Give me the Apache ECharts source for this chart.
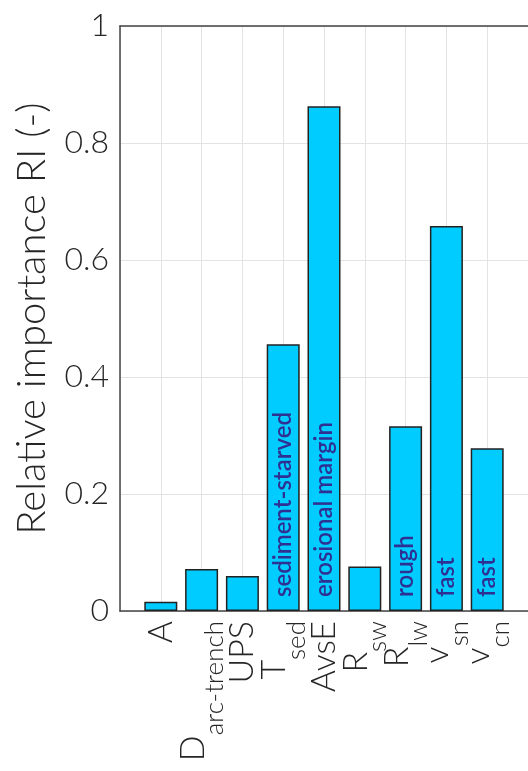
<!DOCTYPE html>
<html>
<head>
<meta charset="utf-8">
<script src="https://cdn.jsdelivr.net/npm/echarts@6/dist/echarts.min.js"></script>
<style>
html,body{margin:0;padding:0;background:#fff;}
#chart{width:528px;height:771px;}
</style>
</head>
<body>
<div id="chart"></div>
<script>
// Categories: main symbol and subscript
const catMain = ['A', 'D', 'UPS', 'T', 'AvsE', 'R', 'R', 'v', 'v'];
const catSub  = ['', 'arc-trench', '', 'sed', '', 'sw', 'lw', 'sn', 'cn'];
// Relative importance values
const riValues = [0.016, 0.072, 0.060, 0.456, 0.863, 0.076, 0.316, 0.658, 0.278];
// Labels written inside bars
const innerLabels = ['', '', '', 'sediment-starved', 'erosional margin', '', 'rough', 'fast', 'fast'];
// Y tick labels
const yTicks = [0, 0.2, 0.4, 0.6, 0.8, 1];
const yTickLabels = ['0', '0.2', '0.4', '0.6', '0.8', '1'];

const FONT = 'Lato';
const TXT = '#262626';
const W = 300;

const chart = echarts.init(document.getElementById('chart'));

const barData = riValues.map((v, i) => [i + 1, v]);

chart.setOption({
  animation: false,
  textStyle: { fontFamily: FONT },
  grid: { left: 120, right: 0, top: 26, bottom: 160, containLabel: false },
  xAxis: [{
    type: 'value', min: 0, max: 10, interval: 1,
    axisLine: { show: true, onZero: false, lineStyle: { color: '#444', width: 1.5 } },
    axisTick: { show: false },
    splitLine: { show: true, lineStyle: { color: '#e3e3e3', width: 1 } },
    axisLabel: {
      show: true, rotate: 90, margin: 10, color: TXT, fontFamily: FONT,
      showMinLabel: false, showMaxLabel: false,
      formatter: function (v) {
        const i = Math.round(v) - 1;
        if (i < 0 || i >= catMain.length) return '';
        if (catSub[i]) return '{m|' + catMain[i] + '}{s|' + catSub[i] + '}';
        return '{n|' + catMain[i] + '}';
      },
      rich: {
        n: { fontSize: 34, fontWeight: W, fontFamily: FONT, color: TXT, lineHeight: 34 },
        m: { fontSize: 34, fontWeight: W, fontFamily: FONT, color: TXT, lineHeight: 34, verticalAlign: 'top' },
        s: { fontSize: 26, fontWeight: W, fontFamily: FONT, color: TXT, verticalAlign: 'bottom', padding: [26, 0, 0, 0] }
      }
    }
  }, {
    type: 'value', min: 0, max: 10, interval: 1, position: 'top',
    axisLine: { show: true, onZero: false, lineStyle: { color: '#444', width: 1.5 } },
    axisTick: { show: false }, axisLabel: { show: false }, splitLine: { show: false }
  }],
  yAxis: {
    type: 'value', min: 0, max: 1, interval: 0.2,
    name: 'Relative importance RI (-)', nameLocation: 'middle', nameGap: 68,
    nameTextStyle: { fontSize: 40, fontWeight: W, color: TXT, fontFamily: FONT },
    axisLine: { show: true, lineStyle: { color: '#444', width: 1.5 } },
    axisTick: { show: false },
    splitLine: { show: true, lineStyle: { color: '#e3e3e3', width: 1 } },
    axisLabel: {
      fontSize: 32, fontWeight: W, color: TXT, margin: 11, fontFamily: FONT,
      formatter: function (v) {
        const k = yTicks.findIndex(t => Math.abs(t - v) < 1e-9);
        return k >= 0 ? yTickLabels[k] : '';
      }
    }
  },
  series: [{
    type: 'bar',
    data: barData,
    barWidth: 33,
    itemStyle: { color: '#00CCFF', borderColor: '#222', borderWidth: 1.5 },
    label: {
      show: true, position: 'insideBottom', rotate: 90, distance: 14,
      align: 'left', verticalAlign: 'middle',
      fontSize: 24, fontWeight: 600, color: '#2E3192', fontFamily: FONT,
      formatter: function (p) { return innerLabels[p.dataIndex]; }
    }
  }]
});
</script>
</body>
</html>
